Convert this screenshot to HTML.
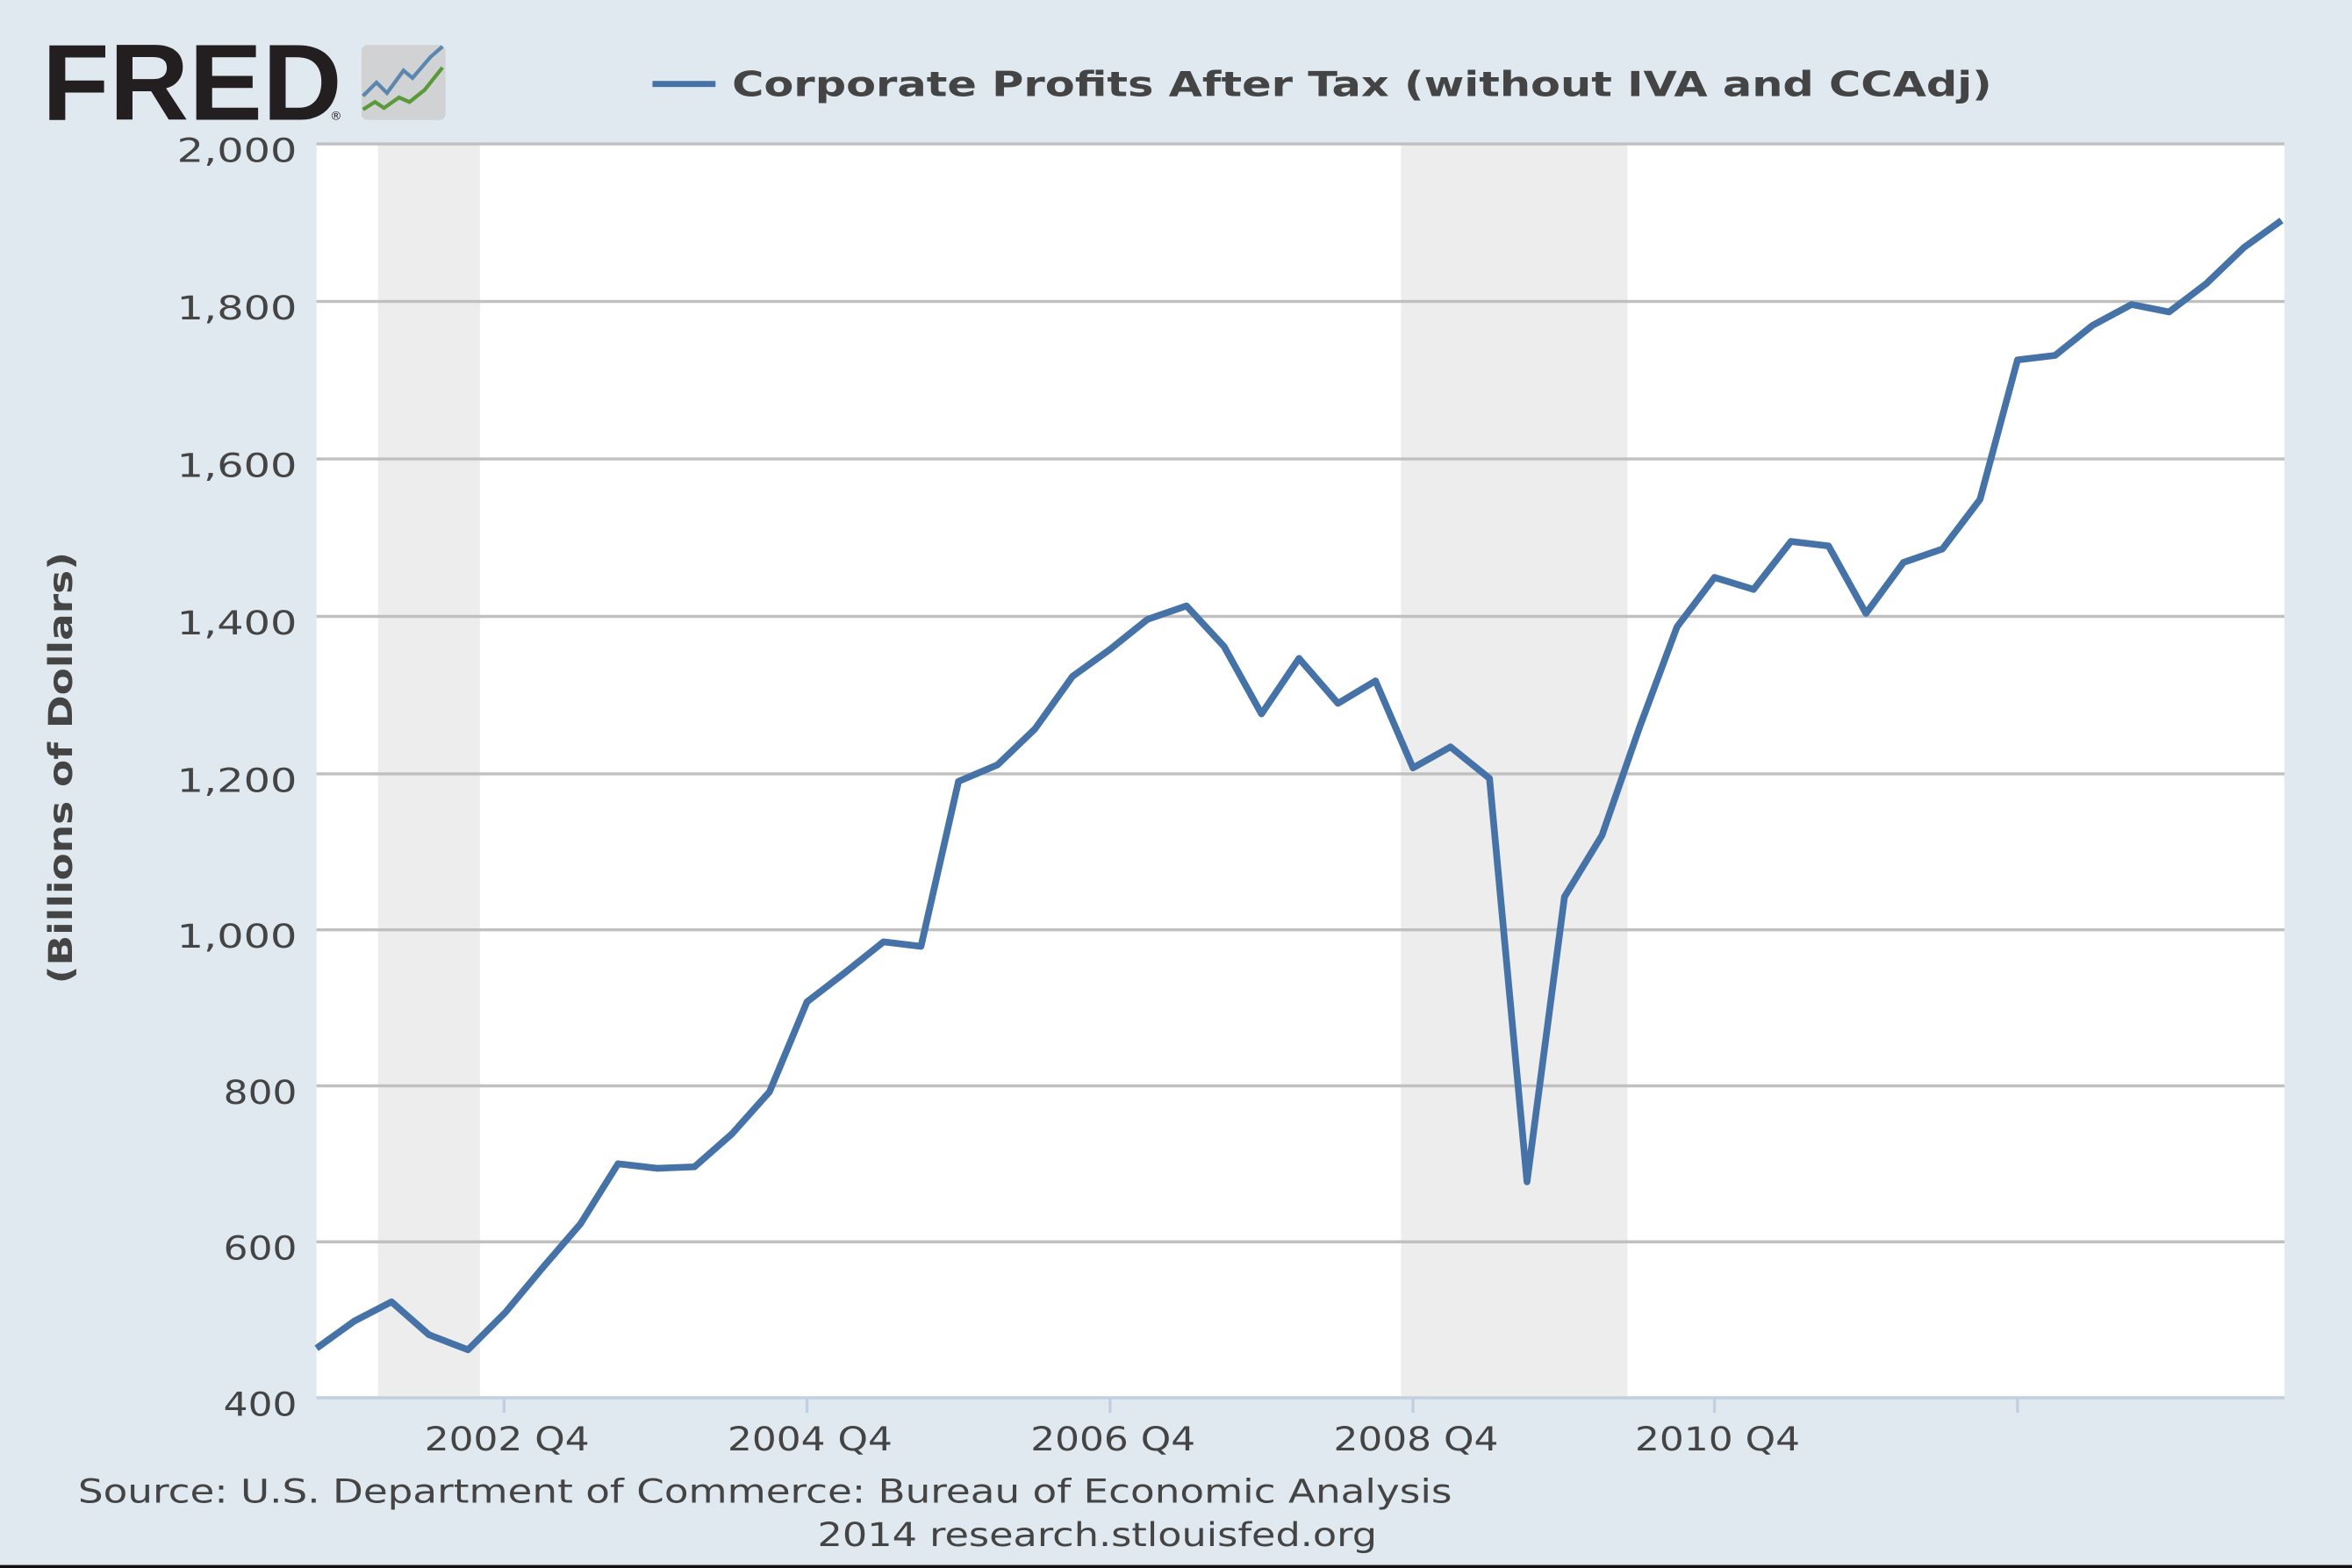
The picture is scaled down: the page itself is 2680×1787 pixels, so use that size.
<!DOCTYPE html>
<html><head><style>html,body{margin:0;padding:0;background:#e1e9f0}svg{display:block}</style></head>
<body>
<svg width="2680" height="1787" viewBox="0 0 1568 1045.5" preserveAspectRatio="none" xmlns="http://www.w3.org/2000/svg" font-family="DejaVu Sans, Liberation Sans, sans-serif">
<rect width="1568" height="1046" fill="#e1e9f0"/>
<rect x="0" y="1043.5" width="1568" height="2" fill="#111"/>
<text x="28" y="80" font-family="Liberation Sans, sans-serif" font-weight="bold" font-size="72" fill="#231f20" textLength="200" lengthAdjust="spacingAndGlyphs">FRED</text>
<text x="220" y="80" font-size="8" fill="#231f20">®</text>
<rect x="241" y="30" width="56" height="50" rx="4" fill="#d0d2d4"/>
<polyline points="242,64 251,55 258,62 269,47 275,52 287,38 295,31" fill="none" stroke="#5b86ad" stroke-width="2.5"/>
<polyline points="242,73 250,68 256,72 266,65 273,68 283,60 295,45" fill="none" stroke="#5a9a3a" stroke-width="2.5"/>
<line x1="435" y1="56" x2="477" y2="56" stroke="#4572a7" stroke-width="4"/>
<text x="488" y="64" font-weight="bold" font-size="23" fill="#444" textLength="840" lengthAdjust="spacingAndGlyphs">Corporate Profits After Tax (without IVA and CCAdj)</text>
<rect x="211" y="96" width="1312" height="835" fill="#fff"/>
<rect x="252" y="96" width="68" height="835" fill="#ededed"/>
<rect x="934" y="96" width="151" height="835" fill="#ededed"/>
<g stroke="#c0c0c0" stroke-width="2">
<line x1="211" y1="96" x2="1523" y2="96"/>
<line x1="211" y1="201" x2="1523" y2="201"/>
<line x1="211" y1="306" x2="1523" y2="306"/>
<line x1="211" y1="411" x2="1523" y2="411"/>
<line x1="211" y1="516" x2="1523" y2="516"/>
<line x1="211" y1="620" x2="1523" y2="620"/>
<line x1="211" y1="724" x2="1523" y2="724"/>
<line x1="211" y1="828" x2="1523" y2="828"/>
</g>
<line x1="211" y1="932" x2="1523" y2="932" stroke="#c0d0e0" stroke-width="2"/>
<g stroke="#c0d0e0" stroke-width="2">
<line x1="336" y1="932" x2="336" y2="942"/><line x1="538" y1="932" x2="538" y2="942"/><line x1="740" y1="932" x2="740" y2="942"/><line x1="942" y1="932" x2="942" y2="942"/><line x1="1143" y1="932" x2="1143" y2="942"/><line x1="1345" y1="932" x2="1345" y2="942"/>
</g>
<polyline fill="none" stroke="#4572a7" stroke-width="4.5" stroke-linejoin="round" points="211,899 236,881 261,868 286,890 312,900 337,875 362,845 387,816 412,776 438,779 463,778 488,756 513,728 538,668 564,648 589,628 614,631 639,521 665,510 690,486 715,451 740,433 765,413 791,404 816,431 841,476 866,439 892,469 917,454 942,512 967,498 993,519 1018,788 1043,598 1068,557 1093,485 1118,418 1143,385 1169,393 1194,361 1219,364 1244,409 1269,375 1295,366 1320,333 1345,240 1370,237 1395,217 1421,203 1446,208 1471,189 1496,165 1521,147"/>
<g font-size="22" fill="#444" text-anchor="end">
<text x="198" y="108" textLength="80" lengthAdjust="spacingAndGlyphs">2,000</text><text x="198" y="213" textLength="80" lengthAdjust="spacingAndGlyphs">1,800</text><text x="198" y="318" textLength="80" lengthAdjust="spacingAndGlyphs">1,600</text><text x="198" y="423" textLength="80" lengthAdjust="spacingAndGlyphs">1,400</text><text x="198" y="528" textLength="80" lengthAdjust="spacingAndGlyphs">1,200</text><text x="198" y="632" textLength="80" lengthAdjust="spacingAndGlyphs">1,000</text><text x="198" y="736" textLength="49" lengthAdjust="spacingAndGlyphs">800</text><text x="198" y="840" textLength="49" lengthAdjust="spacingAndGlyphs">600</text><text x="198" y="944" textLength="49" lengthAdjust="spacingAndGlyphs">400</text>
</g>
<g font-size="22" fill="#444">
<text x="283" y="967" textLength="110" lengthAdjust="spacingAndGlyphs">2002 Q4</text><text x="485" y="967" textLength="110" lengthAdjust="spacingAndGlyphs">2004 Q4</text><text x="687" y="967" textLength="110" lengthAdjust="spacingAndGlyphs">2006 Q4</text><text x="889" y="967" textLength="110" lengthAdjust="spacingAndGlyphs">2008 Q4</text><text x="1090" y="967" textLength="110" lengthAdjust="spacingAndGlyphs">2010 Q4</text>
</g>
<text transform="translate(48,512) rotate(-90)" text-anchor="middle" font-weight="bold" font-size="22" fill="#444" textLength="288" lengthAdjust="spacingAndGlyphs">(Billions of Dollars)</text>
<text x="52" y="1002" font-size="22" fill="#444" textLength="916" lengthAdjust="spacingAndGlyphs">Source: U.S. Department of Commerce: Bureau of Economic Analysis</text>
<text x="545" y="1031" font-size="22" fill="#444" textLength="373" lengthAdjust="spacingAndGlyphs">2014 research.stlouisfed.org</text>
</svg>
</body></html>
